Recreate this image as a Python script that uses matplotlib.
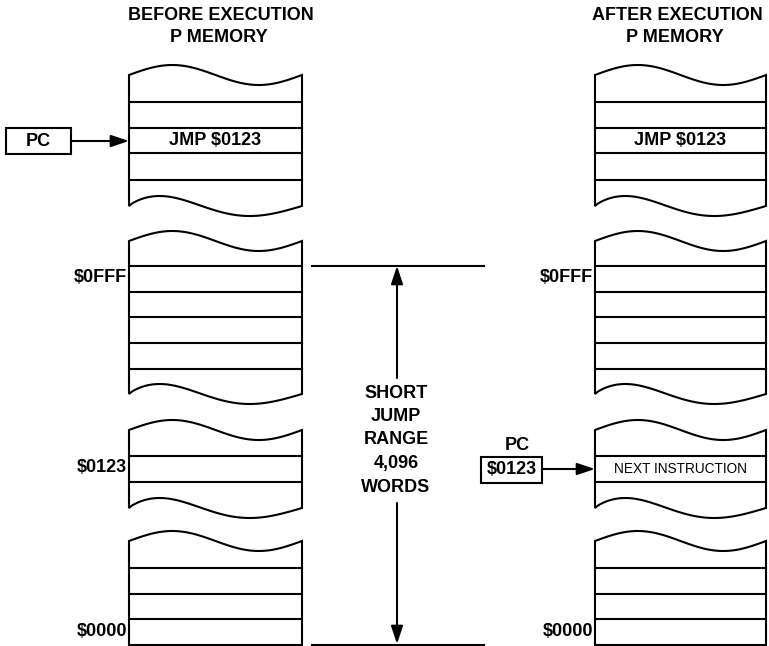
import numpy as np
import matplotlib.pyplot as plt
from matplotlib.patches import Polygon, Rectangle

plt.rcParams['font.family'] = ['Liberation Sans', 'DejaVu Sans']
plt.rcParams['font.weight'] = 'bold'

# memory blocks: (top edge y, row divider ys, bottom edge y or None for flat end)
block_tops = [75, 241, 430, 541]
block_rows = [[102, 128, 153, 180],
              [266, 292, 317, 343, 369],
              [456, 482],
              [568, 594, 619]]
block_bottoms = [206, 394, 508, None]
flat_bottom = 645

columns = {'before': (129, 302), 'after': (595, 766)}
title_x = {'before': 221, 'after': 677}
titles = {'before': ('BEFORE EXECUTION', 'P MEMORY'),
          'after': ('AFTER EXECUTION', 'P MEMORY')}

addr_labels = ['$0FFF', '$0123', '$0000']
addr_rows = [(1, 0), (2, 0), (3, 2)]   # (block, row index) the label sits beside

range_words = ['SHORT', 'JUMP', 'RANGE', '4,096', 'WORDS']

AMP = 10
LW = 1.5


def wave(x0, x1, y0, bottom=False, n=80):
    t = np.linspace(0, 1, n)
    g = t ** 0.8 if bottom else t
    return x0 + t * (x1 - x0), y0 - AMP * np.sin(2 * np.pi * g)


def draw_column(ax, x0, x1):
    for i, top in enumerate(block_tops):
        tx, ty = wave(x0, x1, top)
        if block_bottoms[i] is None:
            bx, by = np.array([x1, x0]), np.array([flat_bottom, flat_bottom])
        else:
            bx, by = wave(x0, x1, block_bottoms[i], bottom=True)
            bx, by = bx[::-1], by[::-1]
        pts = np.column_stack([np.concatenate([tx, bx]), np.concatenate([ty, by])])
        ax.add_patch(Polygon(pts, closed=True, facecolor='white',
                             edgecolor='black', lw=LW))
        for y in block_rows[i]:
            ax.plot([x0, x1], [y, y], color='black', lw=LW)


def row_mid(b, r):
    rows = block_rows[b] + [flat_bottom]
    return (rows[r] + rows[r + 1]) / 2


def arrow(ax, start, end):
    ax.annotate('', xy=end, xytext=start,
                arrowprops=dict(arrowstyle='-|>,head_length=0.6,head_width=0.2',
                                mutation_scale=18, color='black', lw=LW,
                                shrinkA=0, shrinkB=0))


fig = plt.figure(figsize=(7.69, 6.46), dpi=100)
ax = fig.add_axes([0, 0, 1, 1])
ax.set_xlim(0, 769)
ax.set_ylim(646, 0)
ax.axis('off')

fs = 13
for key, (x0, x1) in columns.items():
    draw_column(ax, x0, x1)
    cx = title_x[key]
    ax.text(cx, 16, titles[key][0], ha='center', va='center', fontsize=fs)
    ax.text(cx - 2, 38, titles[key][1], ha='center', va='center', fontsize=fs)
    ax.text((x0 + x1) / 2, row_mid(0, 1), 'JMP $0123', ha='center',
            va='center', fontsize=fs)
    labels = addr_labels if key == 'before' else [addr_labels[0], addr_labels[2]]
    rows = addr_rows if key == 'before' else [addr_rows[0], addr_rows[2]]
    for lab, (b, r) in zip(labels, rows):
        ax.text(x0 - 2, row_mid(b, r) - 1, lab, ha='right', va='center',
                fontsize=fs)

# before: PC pointing at the JMP
ax.add_patch(Rectangle((6, 128), 65, 26, facecolor='white', edgecolor='black', lw=LW))
ax.text(38.5, 141, 'PC', ha='center', va='center', fontsize=fs)
arrow(ax, (71, 141), (129, 141))

# after: PC now holding $0123
ax.text(517, 445, 'PC', ha='center', va='center', fontsize=fs)
ax.add_patch(Rectangle((481, 457), 61, 26, facecolor='white', edgecolor='black', lw=LW))
ax.text(511.5, 470, '$0123', ha='center', va='center', fontsize=fs)
arrow(ax, (542, 469), (595, 469))
ax.text(680, 469, 'NEXT INSTRUCTION', ha='center', va='center', fontsize=9.8,
        fontweight='normal')

# short jump range
ax.plot([312, 484], [265.5, 265.5], color='black', lw=LW)
ax.plot([312, 484], [644.5, 644.5], color='black', lw=LW)
arrow(ax, (397, 378), (397, 266))
arrow(ax, (397, 503), (397, 644))
for i, w in enumerate(range_words):
    ax.text(396, 393 + i * 23.5, w, ha='center', va='center', fontsize=fs)

fig.savefig('out.png', dpi=100, facecolor='white')
